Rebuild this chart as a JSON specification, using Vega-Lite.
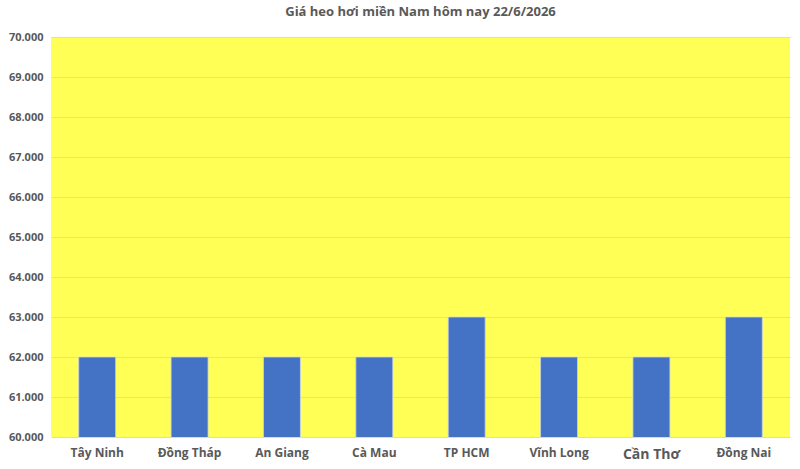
{
  "$schema": "https://vega.github.io/schema/vega-lite/v6.json",
  "width": 800,
  "height": 469,
  "autosize": {"type": "fit", "contains": "padding"},
  "padding": {"left": 8, "top": 6, "right": 10, "bottom": 8},
  "background": "#ffffff",
  "title": {
    "text": "Giá heo hơi miền Nam hôm nay 22/6/2026",
    "font": "Open Sans",
    "fontSize": 13,
    "fontWeight": "bold",
    "color": "#595959",
    "offset": 12
  },
  "config": {
    "view": {"fill": "#ffff55", "stroke": null},
    "axis": {
      "labelFont": "Open Sans",
      "labelFontWeight": "bold",
      "labelColor": "#595959",
      "labelFontSize": 11,
      "gridColor": "#d9d9d9",
      "domain": false,
      "ticks": false,
      "labelOverlap": false
    }
  },
  "data": {
    "values": [
      {"tinh": "Tây Ninh", "gia": 62000},
      {"tinh": "Đồng Tháp", "gia": 62000},
      {"tinh": "An Giang", "gia": 62000},
      {"tinh": "Cà Mau", "gia": 62000},
      {"tinh": "TP HCM", "gia": 63000},
      {"tinh": "Vĩnh Long", "gia": 62000},
      {"tinh": "Cần Thơ", "gia": 62000},
      {"tinh": "Đồng Nai", "gia": 63000}
    ]
  },
  "mark": {"type": "bar", "color": "#4472c4", "stroke": "#c9d3e8", "strokeWidth": 0.8, "clip": true},
  "encoding": {
    "x": {
      "field": "tinh",
      "type": "nominal",
      "sort": null,
      "title": null,
      "scale": {"paddingInner": 0.6, "paddingOuter": 0.3},
      "axis": {
        "labelAngle": 0,
        "labelPadding": 10,
        "labelFontSize": {"condition": {"test": "datum.value == 'Cần Thơ'", "value": 14}, "value": 12}
      }
    },
    "y": {
      "field": "gia",
      "type": "quantitative",
      "title": null,
      "scale": {"domain": [60000, 70000], "zero": false, "nice": false},
      "axis": {
        "values": [60000, 61000, 62000, 63000, 64000, 65000, 66000, 67000, 68000, 69000, 70000],
        "labelExpr": "replace(format(datum.value, ','), ',', '.')",
        "labelPadding": 8
      }
    }
  }
}
